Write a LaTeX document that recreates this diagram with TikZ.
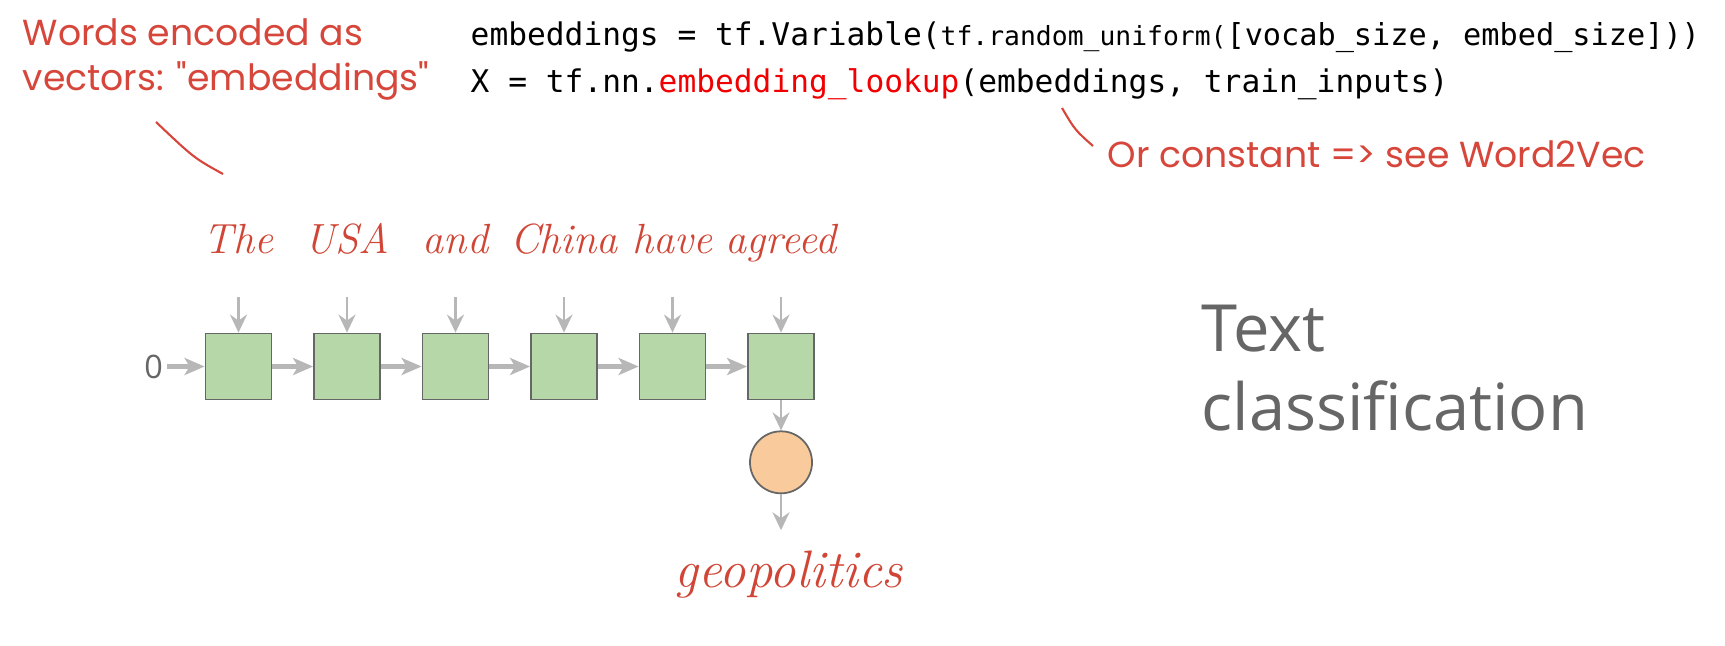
\documentclass[tikz,border=0pt]{standalone}
\usepackage{fontspec}
\usepackage{tikz}
\usetikzlibrary{arrows.meta,positioning}

\newfontfamily\codefont{DejaVu Sans Mono}
\newfontfamily\slidefont{Open Sans}
\newfontfamily\handfont{Poppins}

\definecolor{cellgreen}{HTML}{B6D7A8}
\definecolor{outorange}{HTML}{F9CB9C}
\definecolor{boxgray}{HTML}{666666}
\definecolor{arrowgray}{HTML}{B7B7B7}
\definecolor{notered}{HTML}{D6463A}
\definecolor{wordred}{HTML}{D04535}
\definecolor{codered}{HTML}{F00000}
\definecolor{titlegray}{HTML}{666666}

\begin{document}
\begin{tikzpicture}[x=0.01cm,y=-0.01cm,
    cell/.style={draw=boxgray, fill=cellgreen, line width=0.5pt, minimum size=0.66cm, inner sep=0},
    outcell/.style={draw=boxgray, fill=outorange, line width=0.5pt, circle, minimum size=0.62cm, inner sep=0},
    word/.style={text=wordred, font=\fontsize{12}{14}\selectfont\itshape, anchor=base, inner sep=0},
    harrow/.style={draw=arrowgray, line width=1.4pt, -{Stealth[length=0.2cm, width=0.17cm, inset=0.05cm]}},
    varrow/.style={draw=arrowgray, line width=0.7pt, -{Stealth[length=0.18cm, width=0.17cm, inset=0.06cm]}},
    note/.style={text=notered, font=\handfont\fontsize{10.3}{12}\selectfont, anchor=base west, inner sep=0},
    leader/.style={draw=notered, line width=0.6pt},
    code/.style={font=\codefont\fontsize{8.88}{10}\selectfont, anchor=base west, inner sep=0}]
    \useasboundingbox (0,0) rectangle (1725,645);

    % notes and code
    \node[note] (enc1) at (22,45) {Words encoded as};
    \node[note] (enc2) at (22,90) {vectors: "embeddings"};
    \coordinate (encA) at (156,122);
    \coordinate (encB) at (223,174);
    \draw[leader] (encA) .. controls (194,158) .. (encB);

    \node[code] (line1) at (470,45) {embeddings = tf.Variable({\fontsize{7.5}{9}\selectfont tf.random\_uniform(}{\fontsize{8.6}{10}\selectfont [vocab\_size, embed\_size]))}};
    \node[code] (line2) at (470,92) {X = tf.nn.\textcolor{codered}{embedding\_lookup}(embeddings, train\_inputs)};

    \node[note] (w2v) at (1107,167) {Or constant => see Word2Vec};
    \coordinate (w2vA) at (1062,108);
    \coordinate (w2vB) at (1093,146);
    \draw[leader] (w2vA) .. controls (1075,130) .. (w2vB);

    % the rnn
    \foreach \w [count=\i from 0] in {The,USA,and,China,have,agreed} {
        \node[cell] (c\i) at ({238.5+108.5*\i},366.5) {};
        \node[word] (w\i) at ({238.5+108.5*\i},253) {\w};
        \coordinate (t\i) at ({238.5+108.5*\i},297);
        \draw[varrow] (t\i) -- (c\i);
    }
    \node[text=boxgray, font=\slidefont\fontsize{9.2}{11}\selectfont, inner sep=1pt] (zero) at (153.5,366.5) {0};
    \draw[harrow] (zero) -- (c0);
    \foreach \i [evaluate=\i as \j using int(\i+1)] in {0,...,4}
        \draw[harrow] (c\i) -- (c\j);

    \node[outcell, below=0.3cm of c5] (out) {};
    \draw[varrow] (c5) -- (out);
    \coordinate (gtip) at ([yshift=-0.36cm]out.south);
    \draw[varrow] (out) -- (gtip);
    \node[word, font=\fontsize{15}{17}\selectfont\itshape] (geo) at (789,587) {geopolitics};

    \node[text=titlegray, font=\slidefont\fontsize{18.5}{22.3}\selectfont, align=left, anchor=base west, inner sep=0] (task) at (1201,430) {Text\\classification};
\end{tikzpicture}
\end{document}
